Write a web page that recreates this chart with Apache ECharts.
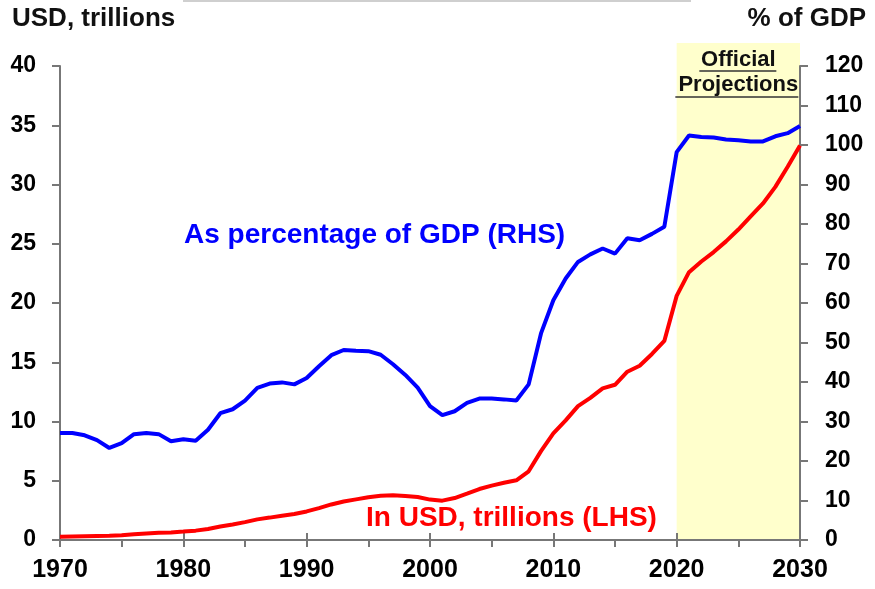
<!DOCTYPE html>
<html>
<head>
<meta charset="utf-8">
<script src="https://cdn.jsdelivr.net/npm/echarts@6/dist/echarts.min.js"></script>
<style>html,body{margin:0;padding:0;background:#fff}#c{width:875px;height:589px}</style>
</head>
<body>
<div id="c"></div>
<script>
var years = [];
for (var y = 1970; y <= 2030; y++) years.push(y);
var debtUSD = [0.28,0.30,0.32,0.34,0.35,0.40,0.48,0.55,0.61,0.64,
  0.71,0.79,0.93,1.14,1.31,1.51,1.74,1.89,2.05,2.19,
  2.41,2.69,3.00,3.25,3.43,3.60,3.73,3.77,3.72,3.63,
  3.41,3.32,3.54,3.91,4.30,4.59,4.83,5.04,5.80,7.50,
  9.00,10.10,11.30,12.00,12.80,13.10,14.20,14.70,15.70,16.80,
  20.60,22.60,23.50,24.30,25.20,26.20,27.30,28.40,29.80,31.50,33.30];
var debtGDP = [27.1,27.1,26.5,25.3,23.3,24.5,26.8,27.1,26.8,25.0,
  25.5,25.1,27.9,32.1,33.1,35.3,38.5,39.6,39.9,39.4,
  41.0,44.0,46.8,48.1,47.9,47.8,46.9,44.5,41.8,38.6,
  33.9,31.6,32.6,34.7,35.8,35.8,35.6,35.3,39.4,52.3,
  60.7,66.2,70.4,72.3,73.8,72.5,76.4,75.9,77.5,79.3,
  98.2,102.4,102.0,101.9,101.4,101.2,100.9,100.9,102.2,103.0,104.8];
var xTicks = [1970,1980,1990,2000,2010,2020,2030];
var projStart = 2020, projEnd = 2030;

var ff = '"Liberation Sans", Arial, sans-serif';
var ffN = '"Liberation Sans Narrow", "Arial Narrow", "Liberation Sans", sans-serif';
var axisCol = '#777';

var chart = echarts.init(document.getElementById('c'), null, {renderer: 'canvas'});
function pairs(arr){ return years.map(function(y,i){ return [y, arr[i]]; }); }

var option = {
  animation: false,
  backgroundColor: '#fff',
  grid: {left: 60, right: 75, top: 66, bottom: 49, containLabel: false},
  xAxis: [{
    type: 'value', min: 1970, max: 2030, interval: 10,
    axisLine: {show: true, lineStyle: {color: axisCol, width: 2}},
    axisTick: {show: true, length: 7, lineStyle: {color: axisCol, width: 2}},
    minorTick: {show: true, splitNumber: 2, length: 7, lineStyle: {color: axisCol, width: 2}},
    splitLine: {show: false},
    axisLabel: {color: '#000', fontWeight: 'bold', fontSize: 25, fontFamily: ffN, margin: 18,
      formatter: function(v){ return xTicks.indexOf(v) >= 0 ? String(v) : ''; }}
  }, {
    type: 'value', min: 1970, max: 2030, interval: 10, position: 'bottom',
    axisLine: {show: false},
    axisTick: {show: true, inside: true, length: 7, lineStyle: {color: axisCol, width: 2}},
    axisLabel: {show: false}, splitLine: {show: false}
  }],
  yAxis: [{
    type: 'value', min: 0, max: 40, interval: 5, position: 'left',
    axisLine: {show: true, lineStyle: {color: axisCol, width: 2}},
    axisTick: {show: true, length: 8, lineStyle: {color: axisCol, width: 2}},
    splitLine: {show: false},
    axisLabel: {color: '#000', fontWeight: 'bold', fontSize: 23, fontFamily: ff, margin: 24}
  }, {
    type: 'value', min: 0, max: 120, interval: 10, position: 'right',
    axisLine: {show: true, lineStyle: {color: axisCol, width: 2}},
    axisTick: {show: true, length: 8, lineStyle: {color: axisCol, width: 2}},
    splitLine: {show: false},
    axisLabel: {color: '#000', fontWeight: 'bold', fontSize: 23, fontFamily: ff, margin: 25}
  }],
  series: [{
    name: 'In USD, trillions (LHS)', type: 'line', xAxisIndex: 0, yAxisIndex: 0,
    data: pairs(debtUSD), symbol: 'none', smooth: false, z: 3,
    lineStyle: {color: '#ff0000', width: 4}
  }, {
    name: 'As percentage of GDP (RHS)', type: 'line', xAxisIndex: 0, yAxisIndex: 1,
    data: pairs(debtGDP), symbol: 'none', smooth: false, z: 3,
    lineStyle: {color: '#0000ff', width: 4}
  }]
};
chart.setOption(option);

var pL = chart.convertToPixel({xAxisIndex: 0}, projStart);
var pR = chart.convertToPixel({xAxisIndex: 0}, projEnd);
var pB = chart.convertToPixel({yAxisIndex: 0}, 0);
var boxTop = 43;
var cx = (pL + pR) / 2;

chart.setOption({
  graphic: [
    {type: 'rect', z: -10, silent: true, shape: {x: pL, y: boxTop, width: pR - pL, height: pB - boxTop},
      style: {fill: '#ffffcc'}},
    {type: 'line', z: 10, shape: {x1: 183, y1: 1, x2: 691, y2: 1}, style: {stroke: '#cfcfcf', lineWidth: 2}},
    {type: 'text', z: 10, left: 12, top: 6, style: {text: 'USD, trillions', font: 'bold 26px ' + ff, fill: '#111'}},
    {type: 'text', z: 10, right: 9, top: 6, style: {text: '% of GDP', font: 'bold 26px ' + ff, fill: '#111'}},
    {type: 'text', z: 10, x: cx, y: 60, style: {text: 'Official', font: 'bold 22px ' + ff, fill: '#111', align: 'center', verticalAlign: 'middle'}},
    {type: 'line', z: 10, shape: {x1: cx - 39, y1: 71, x2: cx + 38, y2: 71}, style: {stroke: '#333', lineWidth: 1.5}},
    {type: 'text', z: 10, x: cx, y: 85, style: {text: 'Projections', font: 'bold 22px ' + ff, fill: '#111', align: 'center', verticalAlign: 'middle'}},
    {type: 'line', z: 10, shape: {x1: cx - 63, y1: 97, x2: cx + 60, y2: 97}, style: {stroke: '#333', lineWidth: 1.5}},
    {type: 'text', z: 10, x: 184, y: 235, style: {text: 'As percentage of GDP (RHS)', font: 'bold 28px ' + ff, fill: '#0000ff', verticalAlign: 'middle'}},
    {type: 'text', z: 10, x: 366, y: 518, style: {text: 'In USD, trillions (LHS)', font: 'bold 28px ' + ff, fill: '#ff0000', verticalAlign: 'middle'}}
  ]
});
</script>
</body>
</html>
